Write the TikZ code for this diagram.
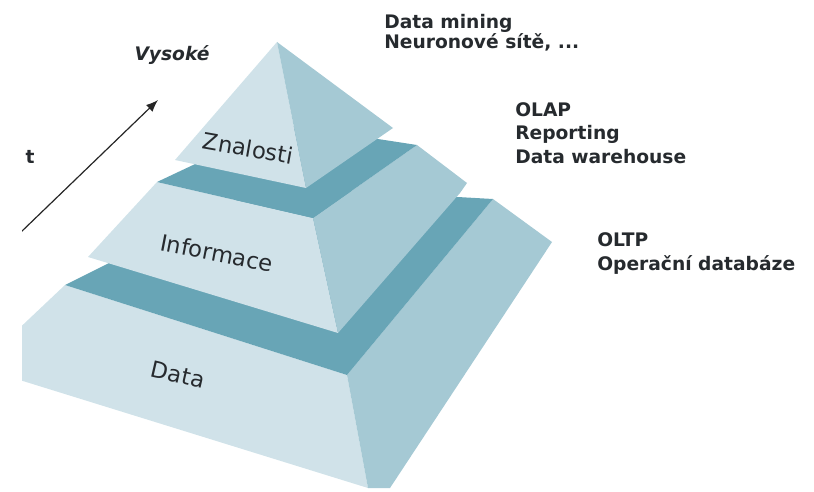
\documentclass[tikz,border=0pt]{standalone}
\usepackage{fontspec}
\setsansfont{DejaVu Sans}
\usepackage{tikz}
\usetikzlibrary{arrows.meta}

\definecolor{frontblue}{RGB}{208,226,233}
\definecolor{sideblue}{RGB}{165,201,212}
\definecolor{ledgeblue}{RGB}{104,165,182}
\definecolor{labelgray}{RGB}{38,42,46}

\begin{document}
\begin{tikzpicture}[x=0.75pt, y=-0.75pt, >={Latex[length=9pt,width=7pt]},
  front/.style={fill=frontblue},
  side/.style={fill=sideblue},
  ledge/.style={fill=ledgeblue},
  tier/.style={font=\sffamily\fontsize{17}{19}\selectfont, text=labelgray, inner sep=0pt},
  note/.style={font=\sffamily\bfseries\fontsize{14}{15}\selectfont, text=labelgray,
    align=left, anchor=north west, inner sep=0pt}]
\useasboundingbox (0,0) rectangle (814,492);

\begin{scope}
\clip (22,0) rectangle (814,492);

% Data level
\fill[front] (65,285) -- (10,337) -- (10,377) -- (368,488) -- (347,375) -- cycle;
\fill[side] (347,375) -- (493,199) -- (552,242) -- (390,488) -- (368,488) -- cycle;
\fill[ledge] (65,285) -- (347,375) -- (493,199) -- (263,186) -- cycle;

% Informace level
\fill[front] (157,182) -- (88,257) -- (338,333) -- (313,218) -- cycle;
\fill[side] (313,218) -- (417,145) -- (467,183) -- (460,193) -- (338,333) -- cycle;
\fill[ledge] (157,182) -- (313,218) -- (417,145) -- (280,124) -- cycle;

% Znalosti (top)
\fill[front] (277,42) -- (175,160) -- (306,188) -- cycle;
\fill[side] (277,42) -- (306,188) -- (393,128) -- cycle;

% Arrow
\coordinate (arrowfoot) at (20,233);
\coordinate (arrowtip) at (158,100);
\draw[->, line width=0.9pt, black!85] (arrowfoot) -- (arrowtip);
\end{scope}

% Level labels
\node[tier, rotate=-10] (znalosti) at (248,148) {Znalosti};
\node[tier, rotate=-11] (informace) at (217,253) {Informace};
\node[tier, rotate=-13] (data) at (178,375) {Data};

% Side notes
\node[note] (mining) at (384,14) {Data mining\\Neuronové sítě, ...};
\node[note, font=\sffamily\bfseries\fontsize{14}{17.6}\selectfont] (olap) at (515,102) {OLAP\\Reporting\\Data warehouse};
\node[note, font=\sffamily\bfseries\fontsize{14}{18}\selectfont] (oltp) at (597,232) {OLTP\\Operační databáze};

% Axis words
\node[font=\sffamily\bfseries\itshape\fontsize{14}{16}\selectfont, text=labelgray] (vysoke) at (172,55) {Vysoké};
\node[font=\sffamily\bfseries\fontsize{14}{16}\selectfont, text=labelgray] (tchar) at (30,157) {t};
\end{tikzpicture}
\end{document}
